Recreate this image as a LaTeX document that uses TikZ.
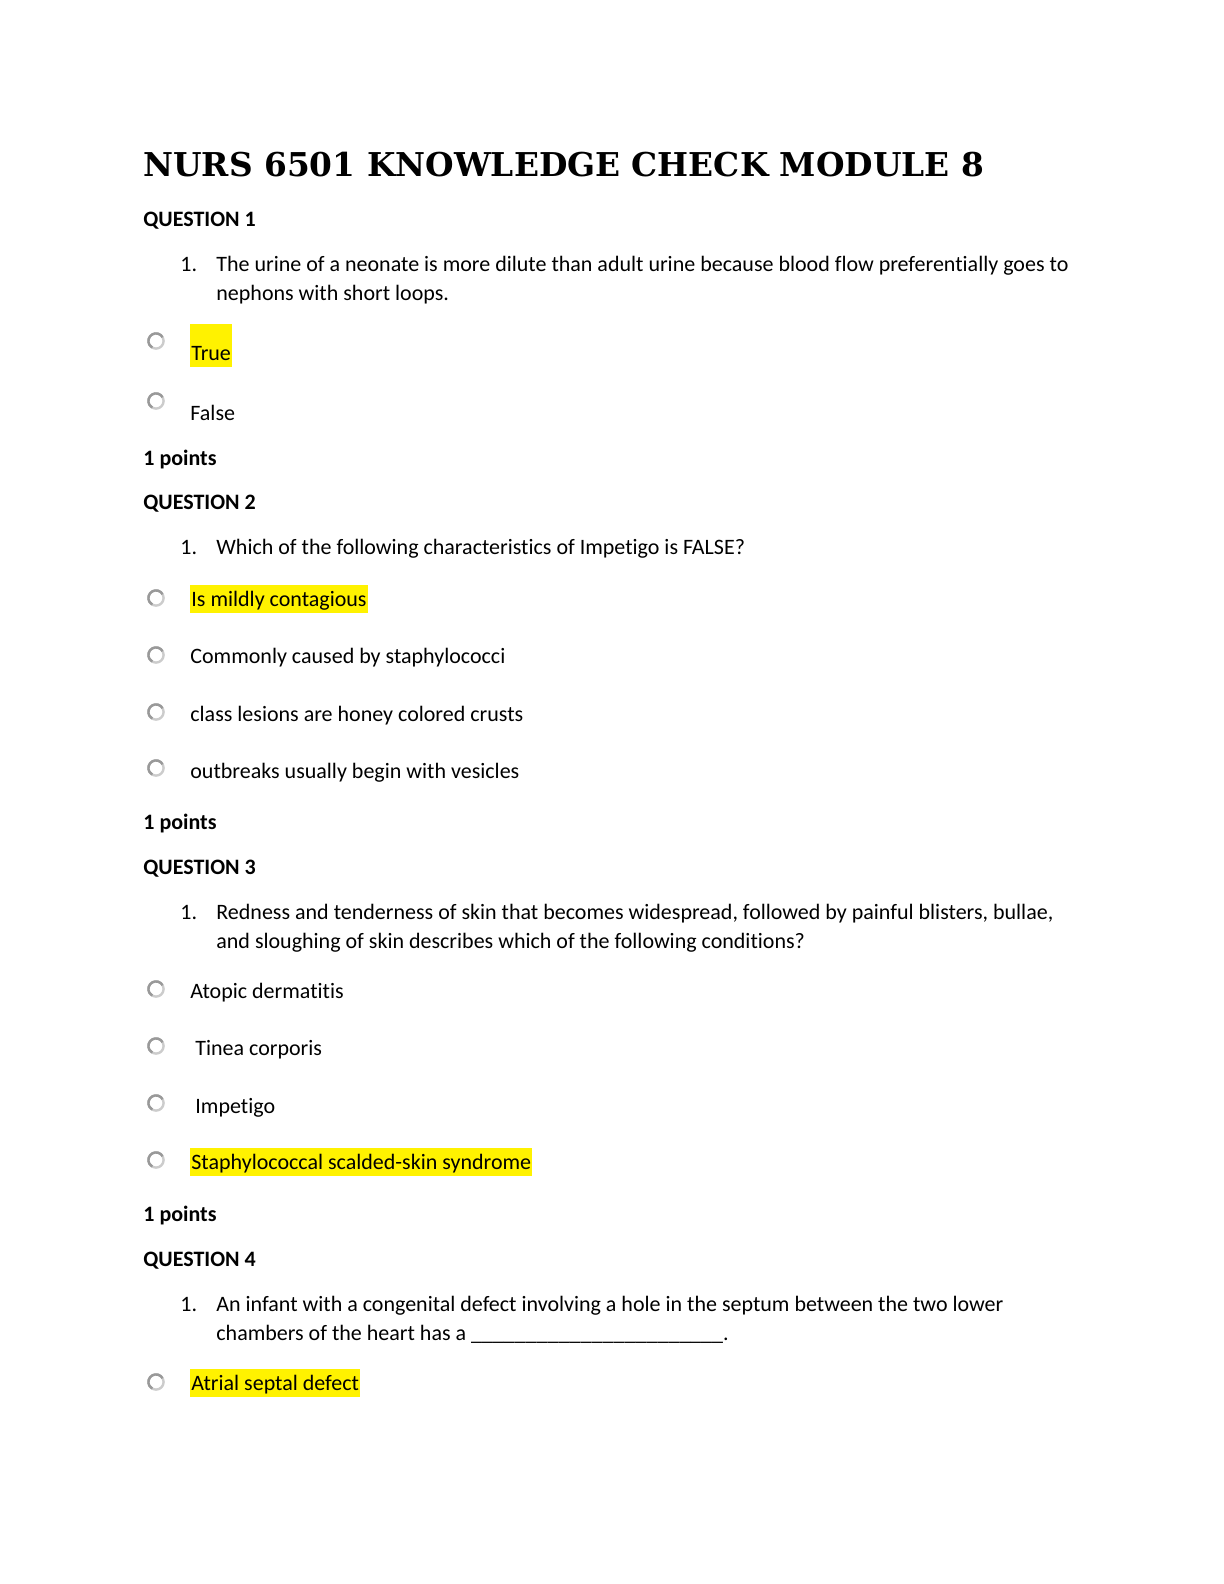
\documentclass[tikz,border=0pt]{standalone}
\usepackage{fontspec}
\setmainfont{Carlito}[Ligatures=NoCommon]
\newfontfamily\titlefont{DejaVu Serif}
\begin{document}
\begin{tikzpicture}[x=0.5bp,y=-0.5bp,
  txt/.style={anchor=base west, inner sep=0pt, font=\fontsize{11bp}{13bp}\selectfont},
  head/.style={txt, font=\fontsize{11bp}{13bp}\selectfont\bfseries},
  hl/.style={txt, fill=yellow, inner xsep=0.5bp, text height=10.5bp, text depth=3.5bp},
  radio/.style={circle, draw=gray!40, line width=1.2bp, fill=white, minimum size=7.6bp, inner sep=0pt},
  radioarc/.style={gray!80, line width=1.2bp}]
\useasboundingbox (0,0) rectangle (1224,1584);
\node[anchor=base west, inner sep=0pt, font=\titlefont\bfseries\fontsize{16.4bp}{20bp}\selectfont] (title) at (143,176) {NURS 6501 KNOWLEDGE CHECK MODULE 8};
% Question 1
\node[head] (q1) at (143,226) {QUESTION 1};
\node[txt] (q1n) at (180,271) {1.};
\node[txt] (q1a) at (216,271) {The urine of a neonate is more dilute than adult urine because blood flow preferentially goes to};
\node[txt] (q1b) at (216,300) {nephons with short loops.};
\node[radio] (r11) at (156,341) {};
\node[txt, fill=yellow, inner xsep=0.5bp, text height=18bp, text depth=3.5bp] (o11) at (190,360) {True};
\node[radio] (r12) at (156,401) {};
\node[txt] (o12) at (190,420) {False};
\node[head] (p1) at (143,465) {1 points};
% Question 2
\node[head] (q2) at (143,509) {QUESTION 2};
\node[txt] (q2n) at (180,554) {1.};
\node[txt] (q2a) at (216,554) {Which of the following characteristics of Impetigo is FALSE?};
\node[radio] (r21) at (156,598) {};
\node[hl] (o21) at (190,606) {Is mildly contagious};
\node[radio] (r22) at (156,655) {};
\node[txt] (o22) at (190,663) {Commonly caused by staphylococci};
\node[radio] (r23) at (156,712) {};
\node[txt] (o23) at (190,721) {class lesions are honey colored crusts};
\node[radio] (r24) at (156,768) {};
\node[txt] (o24) at (190,778) {outbreaks usually begin with vesicles};
\node[head] (p2) at (143,829) {1 points};
% Question 3
\node[head] (q3) at (143,874) {QUESTION 3};
\node[txt] (q3n) at (180,919) {1.};
\node[txt] (q3a) at (216,919) {Redness and tenderness of skin that becomes widespread, followed by painful blisters, bullae,};
\node[txt] (q3b) at (216,948) {and sloughing of skin describes which of the following conditions?};
\node[radio] (r31) at (156,989) {};
\node[txt] (o31) at (190,998) {Atopic dermatitis};
\node[radio] (r32) at (156,1046) {};
\node[txt] (o32) at (195,1055) {Tinea corporis};
\node[radio] (r33) at (156,1103) {};
\node[txt] (o33) at (195,1113) {Impetigo};
\node[radio] (r34) at (156,1160) {};
\node[hl] (o34) at (190,1169) {Staphylococcal scalded-skin syndrome};
\node[head] (p3) at (143,1221) {1 points};
% Question 4
\node[head] (q4) at (143,1266) {QUESTION 4};
\node[txt] (q4n) at (180,1311) {1.};
\node[txt] (q4a) at (216,1311) {An infant with a congenital defect involving a hole in the septum between the two lower};
\node[txt] (q4b) at (216,1340) {chambers of the heart has a \_\_\_\_\_\_\_\_\_\_\_\_\_\_\_\_\_\_\_\_\_\_\_.};
\node[radio] (r41) at (156,1382) {};
\node[hl] (o41) at (190,1390) {Atrial septal defect};
% darker upper-left half of each radio button
\begin{scope}[x=1bp,y=1bp]
\foreach \r in {r11,r12,r21,r22,r23,r24,r31,r32,r33,r34,r41}
  \draw[radioarc] ([shift={(30:3.8bp)}]\r.center) arc[start angle=30,end angle=240,radius=3.8bp];
\end{scope}
\end{tikzpicture}
\end{document}
